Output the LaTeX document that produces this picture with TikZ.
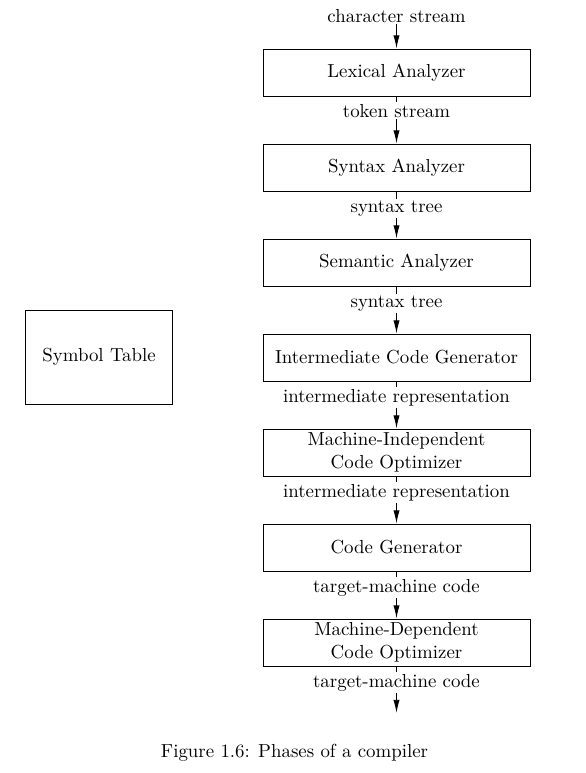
\documentclass[tikz,border=0pt]{standalone}
\usetikzlibrary{arrows.meta}
\begin{document}
\begin{tikzpicture}[x=0.53pt,y=-0.53pt,
  phase/.style={draw,line width=0.5pt,minimum width=141.5pt,minimum height=24.9pt,inner sep=0pt,align=center},
  symtab/.style={draw,line width=0.5pt,minimum width=78.4pt,minimum height=49.8pt,inner sep=0pt},
  lbl/.style={fill=white,inner sep=1pt,anchor=base},
  arr/.style={line width=0.5pt,-{Latex[length=7pt,width=3.3pt]}}]
\useasboundingbox (0,0) rectangle (586,773);
% boxes
\node[phase] (lex) at (396.5,72.5) {Lexical Analyzer};
\node[phase] (syn) at (396.5,167.5) {Syntax Analyzer};
\node[phase] (sem) at (396.5,262.5) {Semantic Analyzer};
\node[phase] (icg) at (396.5,357.5) {Intermediate Code Generator};
\node[phase] (mio) at (396.5,452.5) {Machine-Independent\\Code Optimizer};
\node[phase] (cg) at (396.5,547.5) {Code Generator};
\node[phase] (mdo) at (396.5,642.5) {Machine-Dependent\\Code Optimizer};
\node[symtab] (st) at (99,357) {Symbol Table};
\node[anchor=base,inner sep=1pt] (l0) at (396.5,22) {character stream};
\coordinate (out) at (396.5,713);
% connectors
\draw[arr] (l0) -- (lex);
\draw[arr] (lex) -- (syn);
\draw[arr] (syn) -- (sem);
\draw[arr] (sem) -- (icg);
\draw[arr] (icg) -- (mio);
\draw[arr] (mio) -- (cg);
\draw[arr] (cg) -- (mdo);
\draw[arr] (mdo) -- (out);
% labels
\node[lbl] (l1) at (396.5,117) {token stream};
\node[lbl] (l2) at (396.5,212) {syntax tree};
\node[lbl] (l3) at (396.5,307) {syntax tree};
\node[lbl] (l4) at (396.5,402) {intermediate representation};
\node[lbl] (l5) at (396.5,497) {intermediate representation};
\node[lbl] (l6) at (396.5,592) {target-machine code};
\node[lbl] (l7) at (396.5,687) {target-machine code};
\node[anchor=base] (cap) at (294.5,757) {Figure 1.6: Phases of a compiler};
\end{tikzpicture}
\end{document}
